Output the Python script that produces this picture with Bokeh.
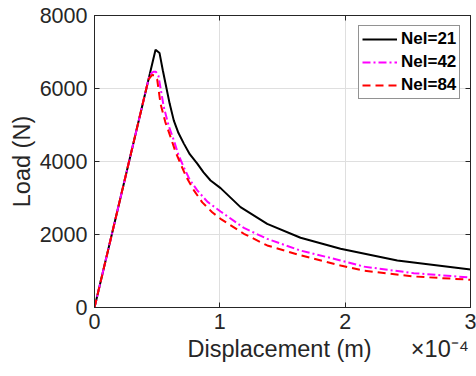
from bokeh.plotting import figure
from bokeh.models import Range1d, FixedTicker, LinearAxis, Legend, LegendItem
from bokeh.embed import file_html
from bokeh.resources import INLINE

# Displacement in units of 1e-4 m, load in N
x21 = [0, 0.487, 0.519, 0.545, 0.567, 0.60, 0.633, 0.67, 0.713, 0.76, 0.82, 0.87, 0.926, 1.006, 1.165, 1.378, 1.644, 1.963, 2.416, 3.0]
y21 = [0, 7060, 6970, 6500, 6130, 5580, 5120, 4780, 4490, 4200, 3940, 3700, 3480, 3270, 2750, 2290, 1910, 1610, 1290, 1040]

x42 = [0, 0.44, 0.47, 0.49, 0.51, 0.53, 0.553, 0.59, 0.633, 0.67, 0.713, 0.76, 0.82, 0.9, 1.006, 1.192, 1.378, 1.644, 1.963, 2.149, 2.548, 3.0]
y42 = [0, 6380, 6460, 6460, 6350, 5950, 5490, 5000, 4580, 4180, 3840, 3500, 3210, 2900, 2630, 2180, 1880, 1560, 1290, 1120, 940, 820]

x84 = [0, 0.43, 0.46, 0.48, 0.50, 0.527, 0.565, 0.607, 0.645, 0.686, 0.735, 0.793, 0.86, 0.939, 1.006, 1.192, 1.378, 1.644, 1.963, 2.149, 2.548, 3.0]
y84 = [0, 6240, 6370, 6360, 6250, 5580, 5080, 4670, 4280, 3940, 3560, 3210, 2880, 2610, 2430, 2020, 1700, 1430, 1150, 1010, 850, 760]

labels = ["Nel=21", "Nel=42", "Nel=84"]
x_ticks = [0, 1, 2, 3]
y_ticks = [0, 2000, 4000, 6000, 8000]
x_label = "Displacement (m)"
x_exponent = "\u00d710\u207b\u2074"
y_label = "Load (N)"

FONT = "Liberation Sans"
TXT = "#262626"
NB = "\u00a0"

p = figure(width=476, height=376, output_backend="svg", toolbar_location=None,
           x_range=Range1d(0, 3), y_range=Range1d(0, 8000),
           min_border_left=94, min_border_right=6, min_border_top=15, min_border_bottom=69)
p.background_fill_color = "white"
p.border_fill_color = "white"
p.outline_line_color = TXT
p.outline_line_width = 1

for ax in [p.xaxis[0], p.yaxis[0]]:
    ax.major_label_text_font = FONT
    ax.major_label_text_font_size = "21.5px"
    ax.major_label_text_color = TXT
    ax.axis_label_text_font = FONT
    ax.axis_label_text_font_size = "23.5px"
    ax.axis_label_text_font_style = "normal"
    ax.axis_label_text_color = TXT
    ax.axis_line_color = TXT
    ax.major_tick_line_color = TXT
    ax.major_tick_in = 5
    ax.major_tick_out = 0
    ax.minor_tick_line_color = None

p.xaxis[0].ticker = FixedTicker(ticks=x_ticks)
p.yaxis[0].ticker = FixedTicker(ticks=y_ticks)
# x label line carries the MATLAB-style exponent at the right end (padded with no-break spaces)
p.xaxis[0].axis_label = NB * 14 + x_label + NB * 6 + x_exponent
p.yaxis[0].axis_label = y_label
p.xaxis[0].major_label_standoff = 6
p.yaxis[0].major_label_standoff = 7
p.xaxis[0].axis_label_standoff = 4
p.yaxis[0].axis_label_standoff = 2

# box ticks on top/right (no labels)
top = LinearAxis(ticker=FixedTicker(ticks=x_ticks), major_label_text_color=None,
                 major_tick_in=5, major_tick_out=0, minor_tick_line_color=None,
                 axis_line_color=TXT, major_tick_line_color=TXT, major_label_standoff=0)
right = LinearAxis(ticker=FixedTicker(ticks=y_ticks), major_label_text_color=None,
                   major_tick_in=5, major_tick_out=0, minor_tick_line_color=None,
                   axis_line_color=TXT, major_tick_line_color=TXT, major_label_standoff=0)
p.add_layout(top, "above")
p.add_layout(right, "right")

p.xgrid.ticker = FixedTicker(ticks=x_ticks)
p.ygrid.ticker = FixedTicker(ticks=y_ticks)
p.grid.grid_line_color = "#dfdfdf"
p.grid.grid_line_width = 1

r21 = p.line(x21, y21, line_color="black", line_width=2)
r42 = p.line(x42, y42, line_color="#ff00ff", line_width=2, line_dash="8 3 2 3")
r84 = p.line(x84, y84, line_color="#ff0000", line_width=2, line_dash="8 5")

legend = Legend(items=[LegendItem(label=labels[0], renderers=[r21]),
                       LegendItem(label=labels[1], renderers=[r42]),
                       LegendItem(label=labels[2], renderers=[r84])],
                location=(264, 208))
legend.label_text_font = FONT
legend.label_text_font_size = "17px"
legend.label_text_font_style = "bold"
legend.label_text_color = "black"
legend.glyph_width = 35
legend.glyph_height = 20
legend.label_height = 20
legend.label_standoff = 4
legend.spacing = 3
legend.padding = 3
legend.margin = 0
legend.border_line_color = TXT
legend.border_line_width = 1
legend.background_fill_color = "white"
legend.background_fill_alpha = 1
p.add_layout(legend, "center")

open("out.html", "w").write(file_html(p, INLINE))
